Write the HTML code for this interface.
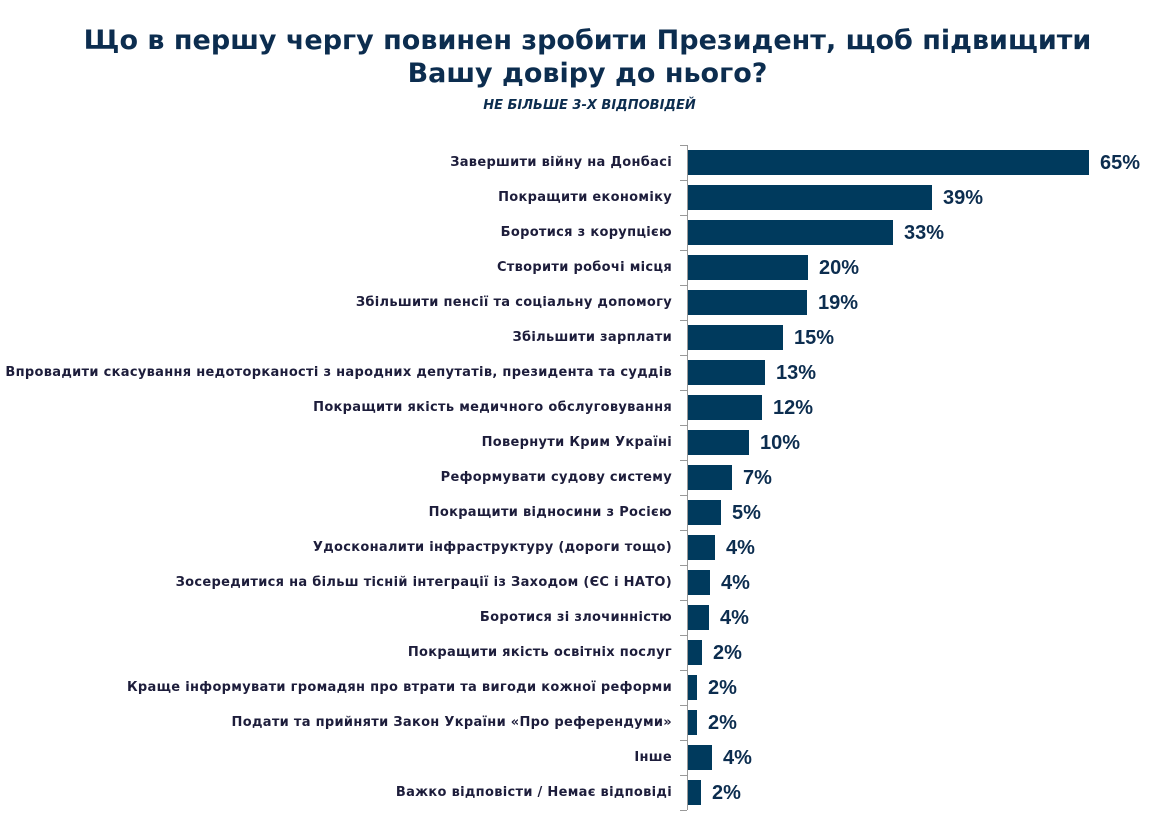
<!DOCTYPE html><html><head><meta charset="utf-8"><style>
body{margin:0;width:1155px;height:821px;background:#fff;position:relative;font-family:"Liberation Sans","DejaVu Sans",sans-serif;color:#0c2d4f;overflow:hidden}
.t{position:absolute;left:0;width:1155px;text-align:center;font-family:"DejaVu Sans",sans-serif;font-weight:bold;font-size:27px;line-height:33px;padding-left:10px}
.s{position:absolute;left:0;width:1155px;text-align:center;font-style:italic;font-family:"DejaVu Sans",sans-serif;font-weight:bold;font-size:13px;top:98px;padding-left:12px}
.l{position:absolute;right:483px;font-family:"DejaVu Sans",sans-serif;font-size:13px;letter-spacing:0.3px;font-weight:bold;white-space:nowrap;height:25px;line-height:26px;color:#1d1d3b}
.b{position:absolute;left:688px;height:25px;background:#003a5d}
.v{position:absolute;font-size:20px;font-weight:bold;height:25px;line-height:27px;color:#0c2d4f}
.ax{position:absolute;left:687px;top:145px;width:1px;height:665px;background:#999}
.tk{position:absolute;left:680px;width:7px;height:1px;background:#999}
</style></head><body>
<div class="t" style="top:24px">Що в першу чергу повинен зробити Президент, щоб підвищити</div>
<div class="t" style="top:57px">Вашу довіру до нього?</div>
<div class="s">НЕ БІЛЬШЕ 3-Х ВІДПОВІДЕЙ</div>
<div class="ax"></div>
<div id="c"></div>
<script>
var d=[["Завершити війну на Донбасі",65,1089],["Покращити економіку",39,932],["Боротися з корупцією",33,893],["Створити робочі місця",20,808],["Збільшити пенсії та соціальну допомогу",19,807],["Збільшити зарплати",15,783],["Впровадити скасування недоторканості з народних депутатів, президента та суддів",13,765],["Покращити якість медичного обслуговування",12,762],["Повернути Крим Україні",10,749],["Реформувати судову систему",7,732],["Покращити відносини з Росією",5,721],["Удосконалити інфраструктуру (дороги тощо)",4,715],["Зосередитися на більш тісній інтеграції із Заходом (ЄС і НАТО)",4,710],["Боротися зі злочинністю",4,709],["Покращити якість освітніх послуг",2,702],["Краще інформувати громадян про втрати та вигоди кожної реформи",2,697],["Подати та прийняти Закон України «Про референдуми»",2,697],["Інше",4,712],["Важко відповісти / Немає відповіді",2,701]];
var h="";d.forEach(function(r,i){var y=150+i*35;
h+='<div class="l" style="top:'+y+'px">'+r[0]+'</div><div class="b" style="top:'+y+'px;width:'+(r[2]-688)+'px"></div><div class="v" style="top:'+y+'px;left:'+(r[2]+11)+'px">'+r[1]+'%</div><div class="tk" style="top:'+(y-5)+'px"></div>';});
h+='<div class="tk" style="top:810px"></div>';
document.getElementById("c").innerHTML=h;
</script></body></html>
